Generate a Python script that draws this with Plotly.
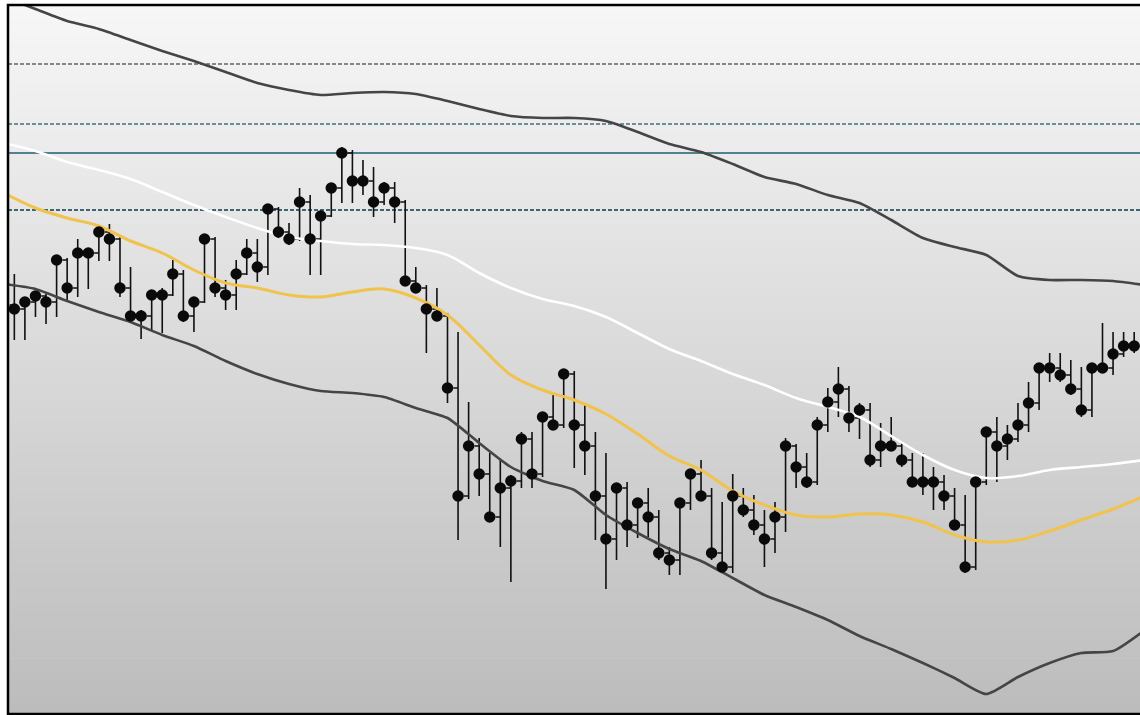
import plotly.graph_objects as go

# ---- bar data (arbitrary price units) ----
bar_index = list(range(107))
opens = [409, 405, 412, 418, 412, 454, 426, 461, 461, 482,
         475, 426, 398, 398, 419, 419, 440, 398, 412, 475,
         426, 419, 440, 461, 447, 505, 482, 475, 512, 475,
         498, 526, 561, 533, 533, 512, 526, 512, 433, 426,
         405, 398, 326, 218, 268, 240, 197, 226, 233, 275,
         240, 297, 289, 340, 289, 268, 218, 175, 226, 189,
         211, 197, 161, 154, 211, 240, 218, 161, 147, 218,
         204, 189, 175, 197, 268, 247, 232, 289, 312, 325,
         296, 304, 254, 268, 268, 254, 232, 232, 232, 218,
         189, 147, 232, 282, 268, 275, 289, 311, 346, 346,
         339, 325, 304, 346, 346, 360, 368]
highs = [440, 414, 422, 420, 456, 456, 475, 464, 485, 490,
         477, 447, 404, 424, 426, 454, 444, 417, 479, 477,
         434, 454, 475, 475, 509, 507, 491, 526, 519, 501,
         529, 567, 564, 554, 547, 532, 532, 514, 447, 429,
         426, 401, 382, 312, 276, 261, 254, 239, 282, 282,
         300, 319, 343, 343, 311, 282, 261, 229, 232, 214,
         226, 204, 167, 214, 243, 254, 226, 212, 240, 226,
         219, 204, 212, 276, 270, 261, 297, 326, 347, 328,
         311, 311, 291, 297, 271, 261, 261, 247, 239, 226,
         219, 236, 287, 297, 289, 311, 332, 351, 361, 361,
         354, 347, 349, 391, 382, 382, 382]
lows = [374, 374, 397, 390, 397, 414, 417, 425, 453, 453,
        417, 391, 375, 384, 381, 418, 392, 382, 411, 417,
        404, 404, 439, 432, 439, 476, 469, 473, 439, 439,
        497, 511, 511, 519, 497, 509, 491, 430, 423, 361,
        395, 311, 174, 215, 218, 192, 167, 132, 226, 226,
        237, 284, 286, 246, 239, 174, 125, 154, 167, 176,
        177, 154, 139, 139, 204, 215, 154, 141, 141, 197,
        179, 147, 161, 182, 226, 226, 229, 282, 297, 282,
        275, 247, 247, 264, 247, 227, 219, 204, 204, 187,
        141, 144, 229, 232, 254, 272, 282, 304, 332, 332,
        319, 297, 297, 343, 339, 357, 361]
closes = [405, 412, 418, 412, 454, 426, 461, 461, 482, 475,
          426, 398, 398, 419, 419, 440, 398, 412, 475, 426,
          419, 440, 461, 447, 505, 482, 475, 512, 475, 498,
          526, 561, 533, 533, 512, 526, 512, 433, 426, 405,
          398, 326, 218, 268, 240, 197, 226, 233, 275, 240,
          297, 289, 340, 289, 268, 218, 175, 226, 189, 211,
          197, 161, 154, 211, 240, 218, 161, 147, 218, 204,
          189, 175, 197, 268, 247, 232, 289, 312, 325, 296,
          304, 254, 268, 268, 254, 232, 232, 232, 218, 189,
          147, 232, 282, 268, 275, 289, 311, 346, 346, 339,
          325, 304, 346, 346, 360, 368, 368]

# ---- indicator lines, sampled every 3 bars ----
line_index = [-1, 2, 5, 8, 11, 14, 17, 20, 23, 26, 29, 32, 35, 38, 41, 44, 47, 50, 53,
              56, 59, 62, 65, 68, 71, 74, 77, 80, 83, 86, 89, 92, 95, 98, 101, 104, 107]
upper_band = [717, 705, 693, 685, 674, 663, 653, 642, 631, 624, 619, 621, 622, 620, 613, 605,
              598, 596, 596, 593, 582, 570, 562, 550, 537, 530, 519, 511, 494, 476, 467, 459,
              438, 434, 434, 433, 429]
lower_band = [430, 425, 413, 402, 392, 379, 368, 353, 340, 330, 323, 321, 317, 306, 296, 271,
              247, 233, 224, 199, 181, 165, 153, 136, 119, 107, 94, 78, 65, 51, 36, 20,
              37, 51, 61, 63, 84]
white_ma = [571, 563, 552, 544, 535, 522, 509, 497, 486, 477, 473, 470, 469, 466, 459, 441,
            426, 415, 408, 397, 381, 365, 353, 340, 329, 316, 307, 297, 278, 259, 244, 236,
            238, 244, 247, 250, 254]
yellow_ma = [521, 506, 496, 488, 473, 461, 444, 431, 426, 419, 417, 422, 425, 416, 399, 369,
             339, 324, 314, 300, 280, 258, 244, 223, 209, 199, 197, 200, 199, 192, 179, 172,
             174, 183, 194, 205, 218]

# ---- horizontal levels ----
level_top_dash = 650
level_mid_dash = 590
level_solid = 561
level_low_dash = 504

fig = go.Figure()

# gradient background (styling only)
n_bands = 90
top_c, bot_c = 247, 188
for k in range(n_bands):
    f = (k + 0.5) / n_bands
    c = int(round(top_c + (bot_c - top_c) * f))
    fig.add_shape(type="rect", xref="paper", yref="paper",
                  x0=0, x1=1, y0=1 - (k + 1) / n_bands, y1=1 - k / n_bands + 0.001,
                  fillcolor=f"rgb({c},{c},{c})", line=dict(width=0), layer="below")

for val, col, dash, w in [(level_top_dash, "#1a1a1a", "4px,2px", 1.2),
                          (level_mid_dash, "#44707c", "4px,2px", 1.6),
                          (level_solid, "#1f5f6e", "solid", 1.5),
                          (level_low_dash, "#3f6570", "4px,2px", 2)]:
    fig.add_shape(type="line", xref="paper", yref="y", x0=0, x1=1, y0=val, y1=val,
                  line=dict(color=col, width=w, dash=dash), layer="below")

line_style = dict(mode="lines", hoverinfo="skip", showlegend=False)
fig.add_trace(go.Scatter(x=line_index, y=upper_band, line=dict(color="#454545", width=2.6, shape="spline", smoothing=0.6), **line_style))
fig.add_trace(go.Scatter(x=line_index, y=lower_band, line=dict(color="#454545", width=2.6, shape="spline", smoothing=0.6), **line_style))
fig.add_trace(go.Scatter(x=line_index, y=white_ma, line=dict(color="#ffffff", width=2.6, shape="spline"), **line_style))
fig.add_trace(go.Scatter(x=line_index, y=yellow_ma, line=dict(color="#f1c24c", width=3, shape="spline"), **line_style))

fig.add_trace(go.Ohlc(x=bar_index, open=opens, high=highs, low=lows, close=closes,
                      increasing=dict(line=dict(color="#111111", width=1.6)),
                      decreasing=dict(line=dict(color="#111111", width=1.6)),
                      tickwidth=0.45, hoverinfo="skip", showlegend=False))
fig.add_trace(go.Scatter(x=bar_index, y=closes, mode="markers",
                         marker=dict(color="#0a0a0a", size=11.5, line=dict(width=0)),
                         hoverinfo="skip", showlegend=False))

fig.add_shape(type="rect", xref="paper", yref="paper", x0=0, x1=1.01, y0=0, y1=1,
              line=dict(color="#000000", width=2.5), fillcolor="rgba(0,0,0,0)", layer="above")

fig.update_layout(
    width=1140, height=715,
    margin=dict(l=8, r=0, t=5, b=1),
    paper_bgcolor="#ffffff", plot_bgcolor="rgba(0,0,0,0)",
    xaxis=dict(range=[-0.6, 106.55], showgrid=False, zeroline=False, showticklabels=False,
               ticks="", rangeslider=dict(visible=False), fixedrange=True),
    yaxis=dict(range=[0, 709], showgrid=False, zeroline=False, showticklabels=False,
               ticks="", fixedrange=True),
    showlegend=False,
)

fig.write_html("out.html", config={"displayModeBar": False},
               post_script="document.body.style.margin='0';document.body.style.overflow='hidden';")
